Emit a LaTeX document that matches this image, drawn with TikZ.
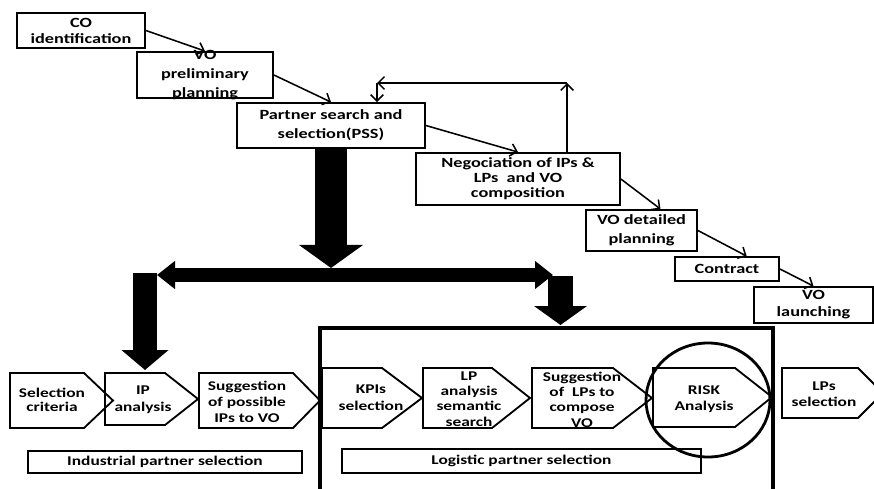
\documentclass[tikz,border=0pt]{standalone}
\usepackage{fontspec}
\setmainfont{Carlito}[FakeStretch=1.3]
\usetikzlibrary{arrows.meta}
\usetikzlibrary{positioning}
\tikzset{box/.style = {draw, line width=1.3pt, inner sep=0pt, align=center,
                       font=\bfseries\fontsize{10}{13.5}\selectfont}}
\tikzset{stage/.style = {draw, line width=1.3pt, line join=miter}}
\tikzset{stagetext/.style = {align=center, inner sep=0pt,
                             font=\bfseries\fontsize{9.5}{11.2}\selectfont}}
\tikzset{flow/.style = {line width=1.1pt}}
\tikzset{big/.style = {line width=#1}}

\begin{document}
\begin{tikzpicture}[x=0.025cm, y=-0.025cm, >={Straight Barb[length=4.5pt,width=9pt]}]
			\useasboundingbox (0,0) rectangle (874,488);
			% steps of the VO creation
			\node [box, minimum width=91pt, minimum height=24.9pt, font=\bfseries\fontsize{10}{11.4}\selectfont] (co) at (81,30.5) {CO\\identification};
			\node [box, minimum width=96.7pt, minimum height=32.7pt] (vo) at (205,75) {};
			\node [align=center, inner sep=0pt, font=\bfseries\fontsize{10}{13.5}\selectfont] (votext) at (vo.center) {VO\\preliminary\\planning};
			\node [box, minimum width=133.7pt, minimum height=32pt] (pss) at (331,125.5) {Partner search and\\selection(PSS)};
			\node [box, minimum width=145pt, minimum height=37pt, font=\bfseries\fontsize{10}{10.7}\selectfont] (neg) at (518,179) {Negociation of IPs \&\\LPs~ and VO\\composition};
			\node [box, minimum width=79pt, minimum height=29.2pt] (vod) at (641.5,230.5) {VO detailed\\planning};
			\node [box, minimum width=74pt, minimum height=17pt] (con) at (727,269) {Contract};
			\node [box, minimum width=84.6pt, minimum height=25.6pt, font=\bfseries\fontsize{10}{12}\selectfont] (vol) at (813.5,305) {VO\\launching};
			\draw [flow, ->] (co.east) to (vo.north);
			\draw [flow, ->] (vo.east) to (pss.north);
			\draw [flow, ->] (pss.east) to (neg.north);
			\draw [flow, ->] (neg.east) to ([xshift=13.5pt]vod.north);
			\draw [flow, ->] (vod.east) to ([xshift=14pt]con.north);
			\draw [flow, ->] (con.east) to (vol.north);
			% feedback loop
			\coordinate (fbr) at (567,83);
			\coordinate (fbl) at (377,83);
			\draw [flow, ->] (neg.north -| fbr) to (fbr);
			\draw [flow, ->] (fbr) to (fbl);
			\draw [flow, ->] (fbl) to (pss.north -| fbl);
			% block arrows
			\coordinate (fork) at (331,268);
			\coordinate (splitl) at (157,275);
			\coordinate (splitr) at (553,275);
			\coordinate (inl) at (145,273);
			\coordinate (outl) at (145,370);
			\coordinate (inr) at (560.5,276);
			\coordinate (outr) at (560.5,325);
			\draw [big=22.8pt, -{Triangle[length=16.4pt,width=44.8pt]}] (pss.south) to (fork);
			\draw [big=10pt, {Triangle[length=12.8pt,width=19.2pt]}-{Triangle[length=12.8pt,width=19.2pt]}] (splitl) to (splitr);
			\draw [big=17pt, -{Triangle[length=14.2pt,width=32.7pt]}] (inl) to (outl);
			\draw [big=17.8pt, -{Triangle[length=13.5pt,width=37pt]}] (inr) to (outr);
			% logistic frame
			\draw [line width=2.8pt] (320,500) -- (320,328) -- (773,328) -- (773,500);
			% selection stages
			\draw [stage] (10,373) -- (84,373) -- (113,400.5) -- (84,428) -- (10,428) -- cycle;
			\draw [stage] (105,373) -- (165,373) -- (198,399) -- (165,425) -- (105,425) -- cycle;
			\draw [stage] (199,373) -- (293,373) -- (320,400.5) -- (293,428) -- (199,428) -- cycle;
			\draw [stage] (322,368) -- (382,368) -- (422,398) -- (382,428) -- (322,428) -- cycle;
			\draw [stage] (423,368) -- (492,368) -- (530,398) -- (492,428) -- (423,428) -- cycle;
			\draw [stage] (532,368) -- (613,368) -- (652,398) -- (613,428) -- (532,428) -- cycle;
			\draw [stage] (653,368) -- (735,368) -- (772,397) -- (735,427) -- (653,427) -- cycle;
			\draw [stage] (782,368) -- (858,368) -- (883,393) -- (858,418) -- (782,418) -- cycle;
			\node [stagetext, font=\bfseries\fontsize{9.5}{10}\selectfont] (sc) at (52,400) {Selection\\criteria};
			\node [stagetext, font=\bfseries\fontsize{9.5}{12}\selectfont] (ipa) at (143,400) {IP\\analysis};
			\node [stagetext] (sip) at (247,402) {Suggestion\\of possible\\IPs to VO};
			\node [stagetext, font=\bfseries\fontsize{9.5}{12}\selectfont] (kpi) at (371,398) {KPIs\\selection};
			\node [stagetext, font=\bfseries\fontsize{9.5}{10.9}\selectfont] (lpa) at (469,399) {LP\\analysis\\semantic\\search};
			\node [stagetext, font=\bfseries\fontsize{9.5}{10.9}\selectfont] (slp) at (582,399.5) {Suggestion\\of~ LPs to\\compose\\VO};
			\node [stagetext] (risk) at (704,399) {RISK\\Analysis};
			\node [stagetext] (lps) at (824,394) {LPs\\selection};
			\draw [line width=2pt] (708,400) ellipse [x radius=62, y radius=57];
			% group labels
			\node [box, minimum width=194.9pt, minimum height=15.6pt, font=\bfseries\fontsize{9.5}{11.2}\selectfont] (ind) at (165,462) {Industrial partner selection};
			\node [box, minimum width=255.4pt, minimum height=17pt, font=\bfseries\fontsize{9.5}{11.2}\selectfont] (lgs) at (521.5,461) {Logistic partner selection};
		\end{tikzpicture}
\end{document}
